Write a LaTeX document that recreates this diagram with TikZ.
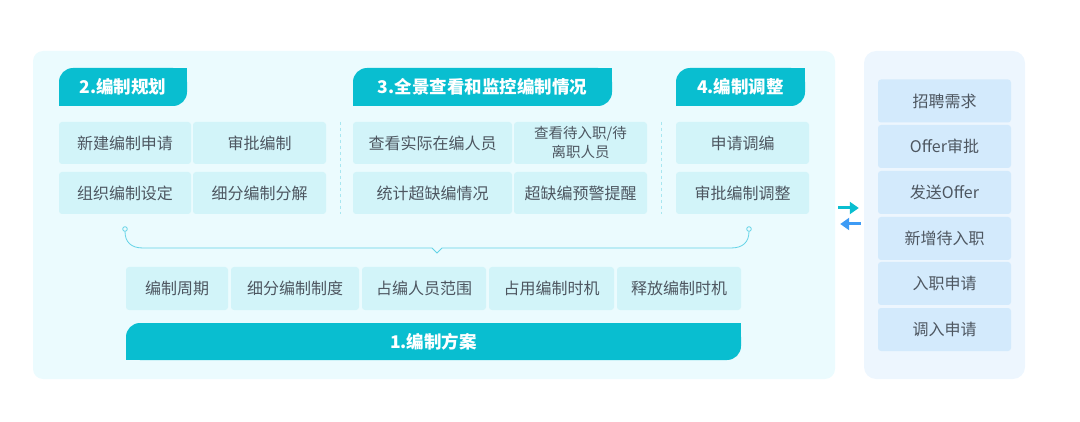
\documentclass[tikz,border=0pt]{standalone}
\usepackage{fontspec}
\setmainfont{Noto Sans CJK SC}
\usetikzlibrary{arrows.meta}
\definecolor{headc}{HTML}{09BED0}
\definecolor{panelc}{HTML}{EBFBFE}
\definecolor{cellc}{HTML}{D2F4F9}
\definecolor{rpanelc}{HTML}{EDF6FE}
\definecolor{rcellc}{HTML}{D3EAFC}
\definecolor{txtc}{HTML}{4D5660}
\definecolor{dashc}{HTML}{A8E6F0}
\definecolor{bracec}{HTML}{63D3E6}
\definecolor{arrblue}{HTML}{3D9BF5}

\begin{document}
\begin{tikzpicture}[x=1pt,y=1pt,
  panel/.style={fill=panelc,rounded corners=10pt,inner sep=0pt},
  cell/.style={fill=cellc,rounded corners=3pt,inner sep=0pt,minimum height=42pt,align=center,
    text=txtc,font=\fontsize{16}{19}\selectfont},
  rcell/.style={cell,fill=rcellc,minimum width=133pt,minimum height=43pt},
  head/.style={fill=headc,rounded corners=14pt,inner sep=0pt,minimum height=38pt,
    text=white,font=\fontsize{17.5}{20}\selectfont\bfseries},
  arr/.style={line width=3pt,-{Triangle[length=9pt,width=12pt]},shorten <=3pt,shorten >=5pt}]
\useasboundingbox (0,0) rectangle (1080,421);
% panels
\node[panel,minimum width=802pt,minimum height=328pt] (lp) at (434,206) {};
\node[panel,fill=rpanelc,rounded corners=12pt,minimum width=161pt,minimum height=328pt] (rp) at (944.5,206) {};

% headers
\node[head,minimum width=128pt] (h2) at (123,334) {2.编制规划};
\node[head,minimum width=259pt] (h3) at (482.5,334) {3.全景查看和监控编制情况};
\node[head,minimum width=129pt] (h4) at (740.5,334) {4.编制调整};
\node[head,minimum width=615pt,minimum height=37pt] (h1) at (433.5,79.5) {1.编制方案};
% square corners
\foreach \h in {h1,h2,h3,h4} {
  \fill[headc] (\h.north east) rectangle ++(-14,-14);
  \fill[headc] (\h.south west) rectangle ++(14,14);
}

% 2. planning
\node[cell,minimum width=132pt] (p1) at (125,278) {新建编制申请};
\node[cell,minimum width=133pt] (p2) at (259.5,278) {审批编制};
\node[cell,minimum width=132pt] (p3) at (125,228) {组织编制设定};
\node[cell,minimum width=133pt] (p4) at (259.5,228) {细分编制分解};

% 3. monitoring
\node[cell,minimum width=159pt] (m1) at (432.5,278) {查看实际在编人员};
\node[cell,minimum width=133pt,font=\fontsize{14.5}{19}\selectfont] (m2) at (580.5,278) {查看待入职/待\\离职人员};
\node[cell,minimum width=159pt] (m3) at (432.5,228) {统计超缺编情况};
\node[cell,minimum width=133pt] (m4) at (580.5,228) {超缺编预警提醒};

% 4. adjustment
\node[cell,minimum width=133pt] (a1) at (742.5,278) {申请调编};
\node[cell,minimum width=133pt] (a2) at (742.5,228) {审批编制调整};

% dashed separators
\draw[dashc,dashed,line width=1pt] (340,299) -- (340,207);
\draw[dashc,dashed,line width=1pt] (661,299) -- (661,207);

% brace
\coordinate (bl) at (125,192);
\coordinate (br) at (749,192);
\draw[bracec,line width=0.8pt] (bl) circle (2.3);
\draw[bracec,line width=0.8pt] (br) circle (2.3);
\draw[bracec,line width=0.8pt] ([yshift=-2.3pt]bl) .. controls (125,179) and (131,173) .. (143,173)
  -- (432,173) -- (437,168) -- (442,173) -- (731,173)
  .. controls (743,173) and (749,179) .. ([yshift=-2.3pt]br);

% 1. plan items
\node[cell,minimum width=102pt,minimum height=43pt] (s1) at (177,132.5) {编制周期};
\node[cell,minimum width=128pt,minimum height=43pt] (s2) at (295,132.5) {细分编制制度};
\node[cell,minimum width=124pt,minimum height=43pt] (s3) at (424,132.5) {占编人员范围};
\node[cell,minimum width=125pt,minimum height=43pt] (s4) at (551.5,132.5) {占用编制时机};
\node[cell,minimum width=124pt,minimum height=43pt] (s5) at (679,132.5) {释放编制时机};

% recruiting column
\node[rcell] (r1) at (944.5,320) {招聘需求};
\node[rcell] (r2) at (944.5,274.5) {Offer审批};
\node[rcell] (r3) at (944.5,228.5) {发送Offer};
\node[rcell] (r4) at (944.5,182.5) {新增待入职};
\node[rcell] (r5) at (944.5,137.5) {入职申请};
\node[rcell] (r6) at (944.5,91.5) {调入申请};

% arrows between panels
\draw[arr,headc] ([yshift=7pt]lp.east) -- ([yshift=7pt]rp.west);
\draw[arr,arrblue] ([yshift=-9pt]rp.west) -- ([yshift=-9pt]lp.east);
\end{tikzpicture}
\end{document}
